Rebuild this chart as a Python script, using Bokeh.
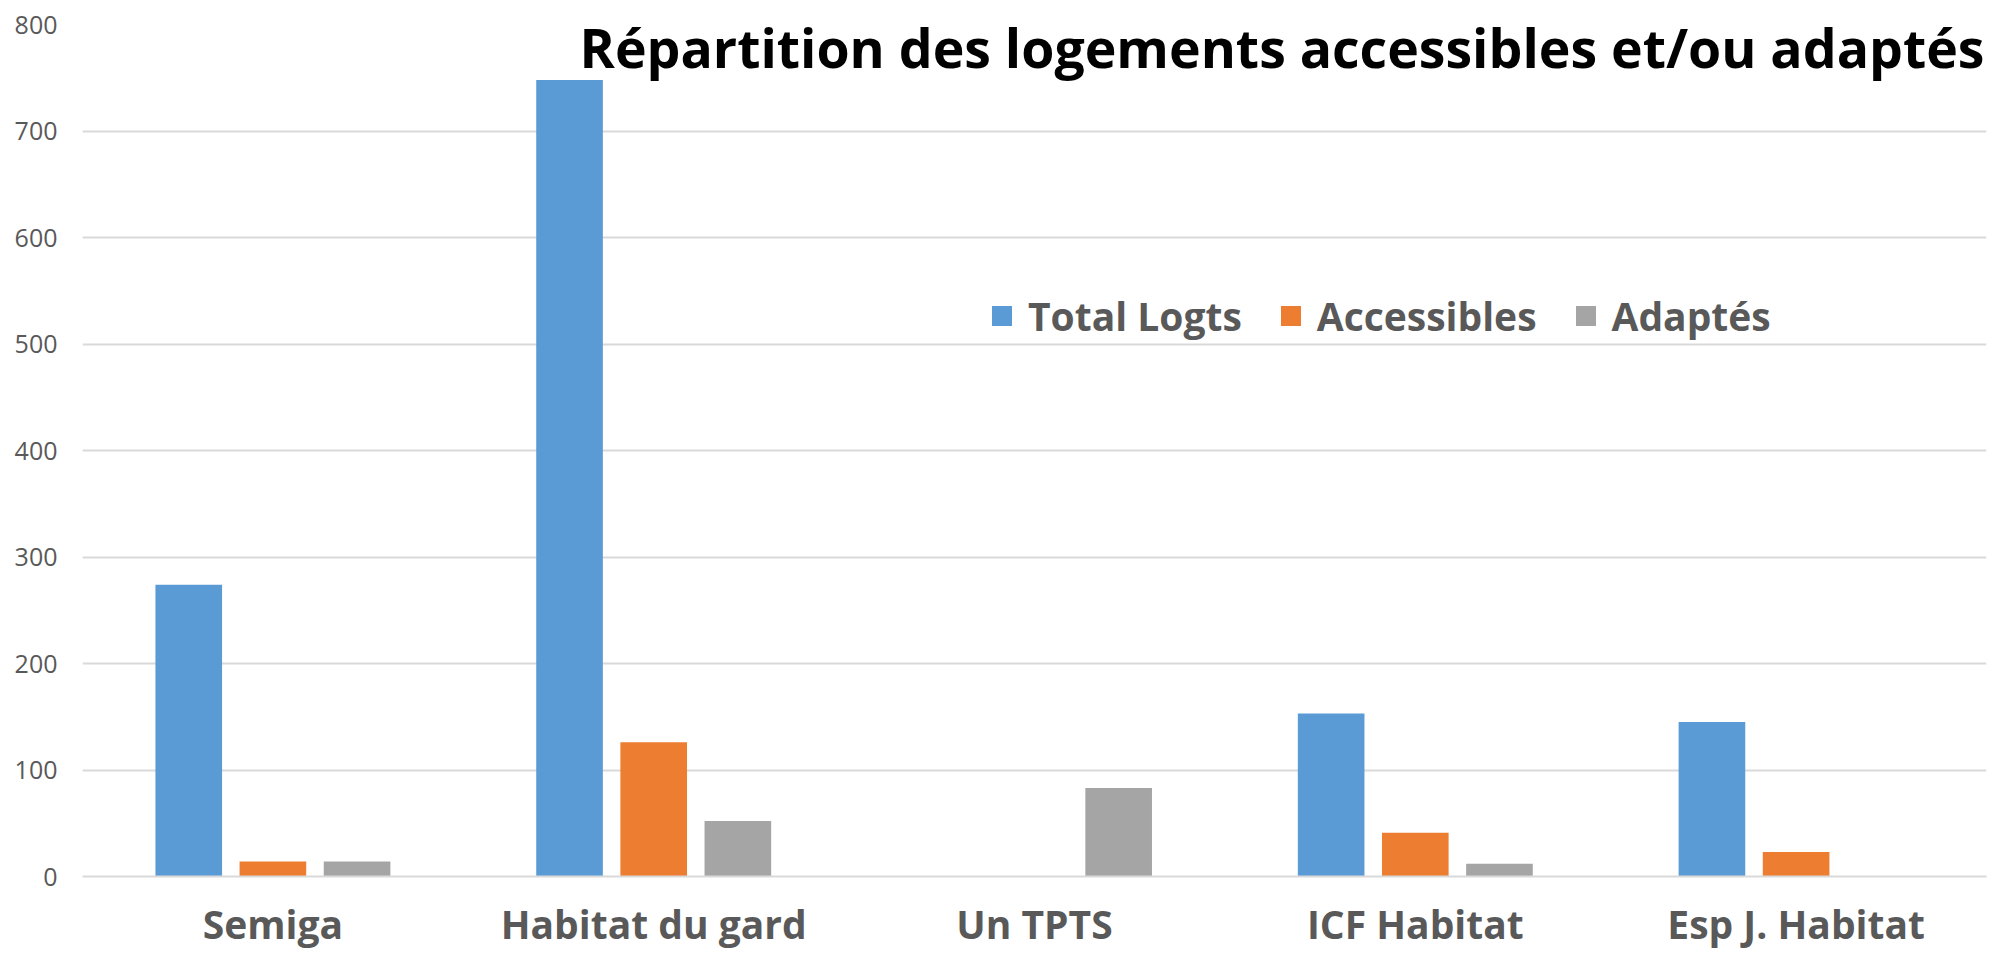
from bokeh.plotting import figure
from bokeh.models import FactorRange, ColumnDataSource, Legend, LegendItem, Label
from bokeh.transform import dodge
from bokeh.embed import file_html
from bokeh.resources import INLINE

categories = ["Semiga", "Habitat du gard", "Un TPTS", "ICF Habitat", "Esp J. Habitat"]
series_names = ["Total Logts", "Accessibles", "Adaptés"]
total_logts = [274, 748, 0, 153, 145]
accessibles = [14, 126, 0, 41, 23]
adaptes = [14, 52, 83, 12, 0]
colors = ["#5b9bd5", "#ed7d31", "#a5a5a5"]
y_ticks = [0, 100, 200, 300, 400, 500, 600, 700, 800]
title_text = "Répartition des logements accessibles et/ou adaptés"

source = ColumnDataSource(dict(cat=categories, total=total_logts, acc=accessibles, ada=adaptes))

W, H = 1997, 952
p = figure(x_range=FactorRange(*categories), y_range=(0, 800), width=W, height=H,
           output_backend="svg", toolbar_location=None,
           min_border_left=82, min_border_right=11, min_border_top=24, min_border_bottom=74)

offs = [-0.221, 0.0, 0.221]
fields = ["total", "acc", "ada"]
renderers = []
for f, o, c in zip(fields, offs, colors):
    r = p.vbar(x=dodge("cat", o, range=p.x_range), top=f, width=0.175, source=source,
               fill_color=c, line_color=None)
    renderers.append(r)

p.outline_line_color = None
p.xgrid.grid_line_color = None
p.ygrid.grid_line_color = "#d9d9d9"
p.ygrid.grid_line_width = 2
p.yaxis.ticker = y_ticks
p.yaxis.axis_line_color = None
p.yaxis.major_tick_line_color = None
p.yaxis.minor_tick_line_color = None
p.yaxis.major_tick_out = 0
p.yaxis.major_label_standoff = 25
p.yaxis.major_label_text_font = "Open Sans"
p.yaxis.major_label_text_font_size = "25px"
p.yaxis.major_label_text_color = "#595959"

p.xaxis.axis_line_color = "#d9d9d9"
p.xaxis.axis_line_width = 2
p.xaxis.major_tick_line_color = None
p.xaxis.major_tick_out = 0
p.xaxis.major_label_standoff = 20
p.xaxis.major_label_text_font = "Open Sans"
p.xaxis.major_label_text_font_style = "bold"
p.xaxis.major_label_text_font_size = "39px"
p.xaxis.major_label_text_color = "#595959"

legend = Legend(items=[LegendItem(label=n, renderers=[r]) for n, r in zip(series_names, renderers)],
                orientation="horizontal", location=(907, 534),
                glyph_width=25, glyph_height=25, label_standoff=14, spacing=36,
                padding=0, margin=0, border_line_color=None, background_fill_alpha=0,
                label_text_font="Open Sans", label_text_font_style="bold",
                label_text_font_size="39px", label_text_color="#595959")
p.add_layout(legend, "center")

title = Label(x=1902, y=829, x_units="screen", y_units="screen", text=title_text,
              text_align="right", text_baseline="alphabetic",
              text_font="Open Sans", text_font_style="bold", text_font_size="53.6px",
              text_color="#000000")
p.add_layout(title)

open("out.html", "w").write(file_html(p, INLINE))
